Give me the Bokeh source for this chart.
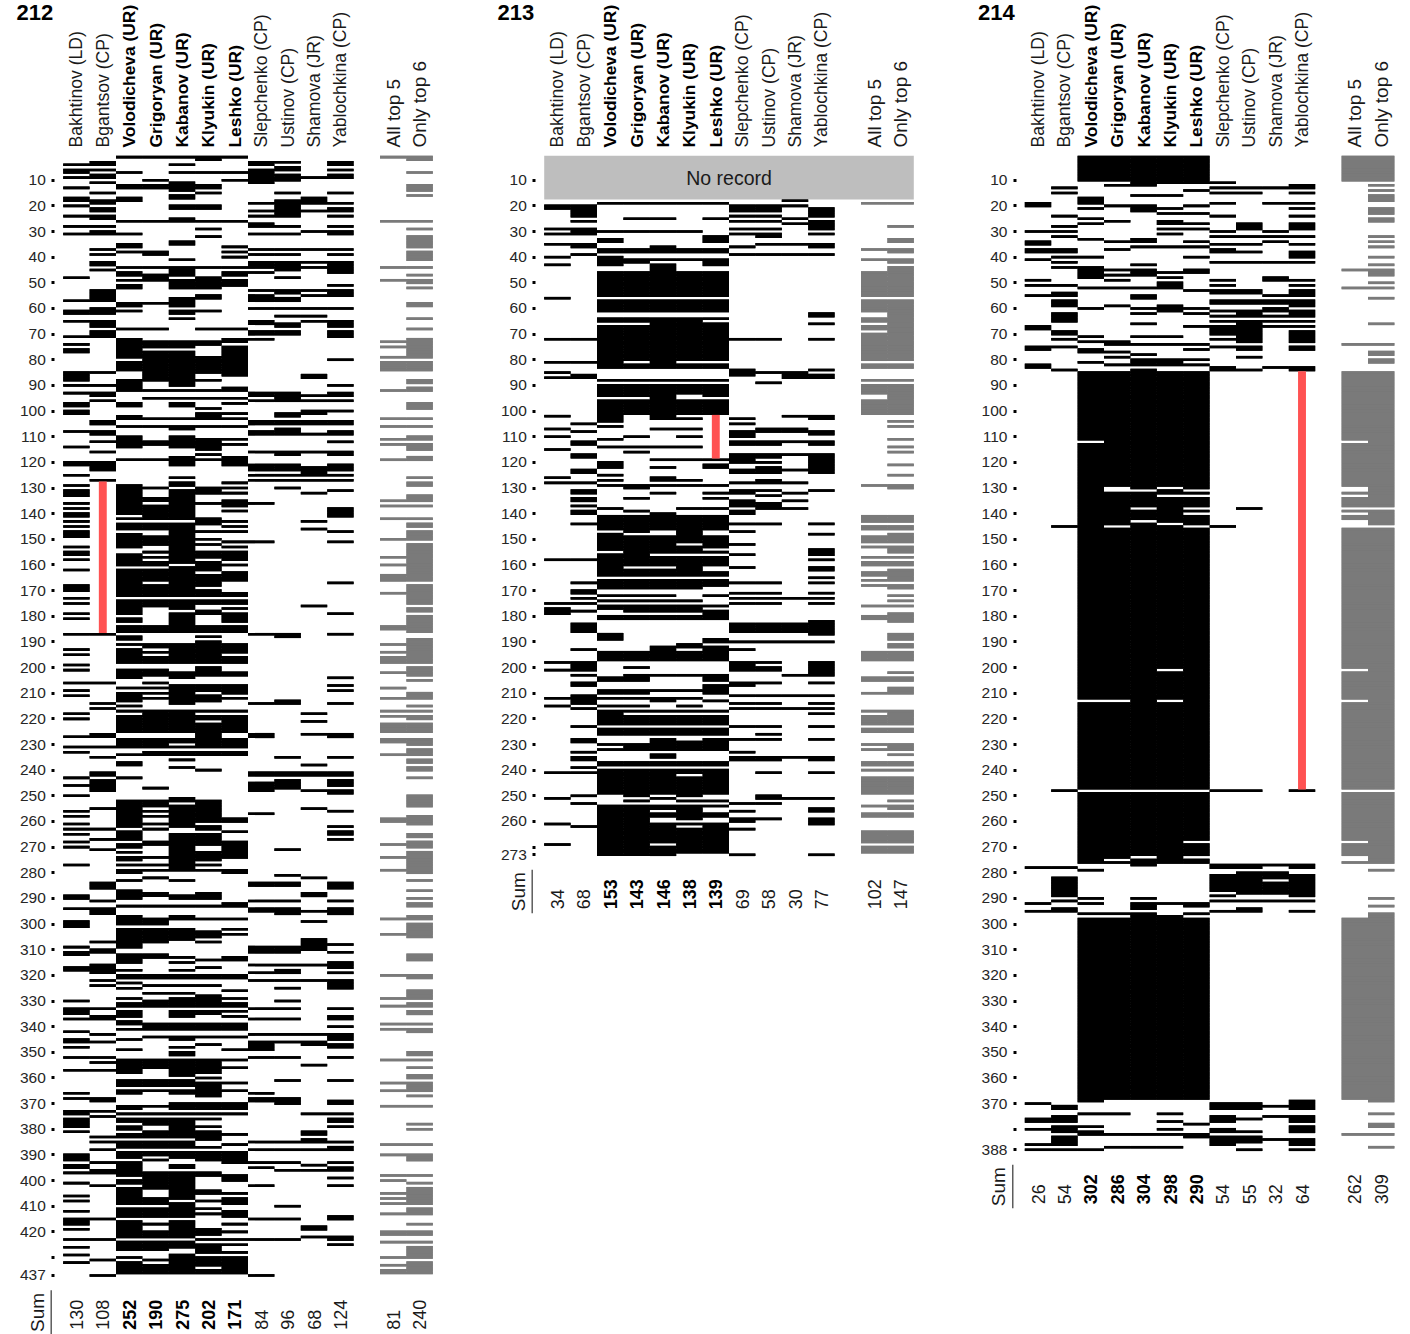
from math import pi
from bokeh.embed import file_html
from bokeh.resources import INLINE
from bokeh.core.properties import value
from bokeh.layouts import row
from bokeh.models import ColumnDataSource, FixedTicker, Range1d
from bokeh.plotting import figure

NAMES = ["Bakhtinov (LD)", "Bgantsov (CP)", "Volodicheva (UR)", "Grigoryan (UR)", "Kabanov (UR)",
         "Klyukin (UR)", "Leshko (UR)", "Slepchenko (CP)", "Ustinov (CP)", "Shamova (JR)", "Yablochkina (CP)"]
BOLD = [False, False, True, True, True, True, True, False, False, False, False]
SUMMARY_NAMES = ["All top 5", "Only top 6"]

# ---- Convocation 212: rows on which each deputy voted (a-b = consecutive rows)
bakhtinov_212 = "4 6 7 9 13 17-18 20 24 28 31 48 57 61-62 65 71 74 76-77 85-88 90 93 97-98 100-101 108 114 120-121 125 129 131-133 136 138 140-141 143 145 147-149 153 155-156 158 162 168-170 173 175 179 181 187 193 195 199 201 206 209 211 218 220 227 231 233 243 246 250 256 258 261 263 265 268 270 277 289-290 294 299-301 309 311-312 317-318 330 333-335 337 342 345-346 348 352 357 366 368 373-374 376-379 381 390-392 394-395 397 401 406 408 412 415-417 419 423 426 429 432"
bgantsov_212 = "3-4 6 8-9 11 15 18-19 21-22 24-25 28 30-31 37 39 42-43 45 53-57 60-62 65-67 69-71 85 90 93-94 96 104-105 108-109 112 116 120-123 127 187 206 214 216 226-227 231 235 241-242 244-248 255 263 267 271 284-286 291 294-296 307 310-311 316-319 322 324 333 336-337 343 346 352 354 357 368-369 373 375 383 385 388 393 396-397 402 415 423 431 437"
volodicheva_212 = "1 7 12-13 17-18 26 31 35-36 38 44 46-47 49 51-52 58-59 61 68 72 73-79 81-84 88-92 97-98 102-103 106 110-114 119 129-140 142 144-146 148-153 156-160 162-172 174-179 181-182 184-186 188-189 191 193-198 201-203 204 208 210-213 215 217 219-225 228-230 231 234 237-238 243 252-262 264-267 269-270 272 274-275 277 279-280 283 287-290 293 297-300 302-306 307-309 312-315 318 320-321 323 325 329 331-332 334-336 338-339 341 345 349 353-358 361-363 365-366 371-372 374 376-377 379-380 382-383 385-387 389-391 393-395 396-398 400-401 403-409 411-414 416-422 424-427 430 432-436"
grigoryan_212 = "1 10 12-13 26 38-39 44 47-49 58 68 73-75 77-84 85-88 92 95 103 106 112 113 119 130 134-135 137-142 144 145-146 149-152 155 157 159-160 162-166 168-172 174-176 184-186 191-192 194 196-198 201-203 206 208 210 212 217-225 228-230 231 233-234 247 252-254 256 258 261 263 268-269 274 277 279 282 288-289 293 298-300 302-307 312-313 320-321 324 327 330 331-332 339-341 344 353-356 361-363 365 371 374 376-378 381-383 385-387 389-390 392 397-403 407-409 411-414 417 420-422 424-427 431 433-436"
kabanov_212 = "1 4 7 11-14 16-17 20-21 25-26 34-35 41 44-47 49-52 56-59 61-62 64 73-75 77-90 92 95 97-98 103 106-107 110-114 118-121 126 128-129 131-142 144 145-158 159 161 162-172 174-177 179-186 191-198 202-204 207-210 211-213 214 217-225 228-229 231 233-234 236 239 251-252 254-262 265-279 283 289-290 293 297-298 302-306 313 315 318 320-321 324 327 329-332 334-336 339-341 344-345 348 350-351 353-354 355-359 361-363 365-366 370-372 374 376-383 385-387 389-391 394-395 397-407 409-414 416-422 424-426 429-436"
klyukin_212 = "1-2 7 12-13 15 20-21 26 29 32 44 48-52 55-56 61 68 73-74 79-85 88 92 95 99 101-103 106 111-115 117 119 130-132 136 142-144 147 150 152 155-157 159-162 164-167 168 170-172 174-175 178 179 184-186 188 190-198 200-203 207-209 211-213 217 219-220 222-230 231 233-234 240 252-255 256-260 262-263 265-269 272-275 277 279 288-290 293 298 303-305 307 314 317 320-321 324 328-332 334-335 339-341 344 347 353-358 360 362-367 370-372 374 376 379 381-384 387 389-392 397 398 404-405 408 411 413 419 420-421 423 425-428 430-433 435-436"
leshko_212 = "1 7 10 26 36 38 40 44 46-47 49-50 51 68 72 73 75-86 91-92 95 97 101 103 106 111 113 118-121 128 130 132 135-137 139 143 145 147 151 153 155-158 160 163-166 171-172 174-175 177 179-182 184-186 191-194 196-198 202-203 207-210 212 217 219-225 228-230 231 233-234 259-260 264 268-274 279-280 292-293 298 302 304 313-314 320-321 326 329 331-332 334 336 339-341 344 349 353 356 362 365 370-372 374 382 386 389-392 393 398-400 405 407-409 412-414 417 420 423 425 428 430-436"
slepchenko_212 = "3-4 6-7 8-10 11 19 22 24 27-28 31 37 39 42-43 44 46 53 55 56 57 60 65-66 69 70 72 93-94 96 104-105 108-109 116 121-123 125 127 136 151 187 214 226-227 241-242 245-248 257 284-285 291 294-295 309-311 316 319 322 333 337 343 346-349 352 366 368-369 385 388 393 395 402 415 423 437"
ustinov_212 = "3 5-6 8-10 15 18-24 28 31 37 39 42-43 44 45 48 53-54 56-57 60 63 66-67 69 70 93-96 101-102 104-105 107-109 116-117 121-123 125 127 130 187-188 213-214 235 241-242 244-247 271 281 284-285 291 294-296 309-311 316 318-319 322 325 330 333 337 343 346 352 361 368-370 385 388 393 396 410 415 423"
shamova_212 = "9 17-19 22 30 37 42 44 53 55 60 63 65 86-87 94 96 100-101 104-105 109 116 122-125 127 132 143 146 176 218 221 226 238 241-242 248 255 282 288-289 295 299 306-310 316 322 343 346-347 355 374 381-382 384-385 388 394 396 418-419 422"
yablochkina_212 = "3-4 6 8-9 15 19 21-22 24 28 30-31 37 39 42-43 44 45-46 51 53-55 60 65-67 69-71 80 90 93-94 96 100 104-105 108-109 112 116-117 121-123 125 127 131 138-141 147 151 167 179 187 204 207 209 214 226-227 235 241-242 244-246 248-249 256 262 264 265 267 284-286 291 294-296 308 311 315-317 319 322-325 333 336-337 340 343-345 347-348 352 361 369-370 374 376-377 379 385 387-388 393 395-396 399 402 414-415 422-423 425"
all5_212 = "1 26 44 49 73 75 79 81-84 92 103 106 111 113 119 135 137 142 150 157 160 164-166 171 184-185 191 194 196-198 202 208 212 217 219 222-225 228-229 234 259-260 269 274 279 298 304 320 329 332 339 341 353 362 365 371 386 390 398 400 405 407 409 413 420-421 424 430 433 435-436"
only6_212 = "1-2 7 12-14 16 26 29 32-36 38 39-41 44 47 49-50 52 58-59 64 68 72 73-79 81-84 88-89 91-92 97-99 103 106 110-111 113-115 118-119 126 128-129 133-135 137 142 144-145 147-150 152-166 168-175 177-178 180-186 189-198 200-203 205 210-212 215 217 219-220 222-225 228-230 232-234 236-237 239-240 243 250-254 258-261 265-266 268-270 272-280 283 287 290 292-293 297-298 300-305 312-314 320-321 326-329 331-332 334-335 339 341-342 350-351 353 356 359-360 362-365 367 371 378 380 386 390-392 398 401 403-409 411-413 417 420-421 424 426-430 432-436"
sums_212 = [130, 108, 252, 190, 275, 202, 171, 84, 96, 68, 124]
summary_212 = [81, 240]
ticks_212 = list(range(10, 430, 10)) + [430, 437]
unlabeled_212 = [430]
red_212 = (1, 128, 186)

# ---- Convocation 213
bakhtinov_213 = "20-21 29 31 35 40 43 56 72 81 85 87 102 107 110 115 126 128 158 175 177-179 198 201 212 215 241 251 261 269"
bgantsov_213 = "20-24 26 29-31 35-36 39 72 81 86-87 105 108 112-113 117-118 123-124 128 131-132 134-135 137 139-140 144 158 167 170-171 173 175 178 183-186 193 198-201 203 206-207 211-214 216 223 228-229 233 235-236 239 241 250 253 262"
volodicheva_213 = "19 30 33-34 37-38 40-43 46-55 57-61 64-65 67-83 88 90-94 96-101 102-104 106 111 114 120-122 125 127 129 138 141-146 148-154 156-164 166 167-169 172 174 176-177 180-181 187-189 194-197 204-205 209-210 212 215 217 218-222 224-226 230 232 237-238 240-249 254-273"
grigoryan_213 = "19 25 30 37-38 41 42 46-55 57-61 64-65 67-80 82-83 88 90-94 96-101 110 114 116 129-130 134 139 141-144 145-147 149-160 162-164 166 167-169 172 174 176-178 180-181 194-197 200 203-205 209-210 212 215 217 219-222 224-226 230-232 237-238 240-250 252 254-259 260-273"
kabanov_213 = "19 25 30 36-38 41 43-55 57-61 64-83 88 90-103 107 114 119 122 126-127 129 132 140-146 149-155 157-160 162-164 166-169 172 174 176-178 180-181 192-197 203 209 212-213 217 219-222 224-226 228-232 234-235 237-238 240-249 251 254-255 257-258 261-268 270-273"
klyukin_213 = "19 30 37-38 41 46-55 57-61 64-80 82-83 88 90-93 96-101 103 107 110 114 119 127 129 138 141-151 153-155 157-164 166 167-169 174 176-178 180-181 191-192 194-197 203 209 212 215 217 219-222 224-226 229-232 237-238 240-241 243-250 252 254-259 261 263 264-272"
leshko_213 = "19 25 32-34 37-38 41-43 46-55 57-61 64 66-80 82-83 88 90-94 96-101 119 121-122 129 132 134 138 141-146 149-153 155 157-160 163-164 166-168 172 176 178-181 189-190 192-197 203-205 207-210 213 217 219-222 224-226 228-232 237-238 240-249 252 254 257-258 261-272"
slepchenko_213 = "20-22 24 26 29 31 36 39 72 84-86 103 105 108-110 112-113 117-120 123-124 128 131-132 135-137 139-140 144 147 152 156 161 167 171 173 175 183-186 190 193 198-201 206-207 211 214 216 223 228 233 235-236 253 256 259-260 263 273"
ustinov_213 = "20-22 24 26 29 31-32 35 39 72 85 89 107-108 112-113 117-118 120 122-124 127-128 131 133 136-138 144 167 171 173 175 183-186 190 198 200-201 206 211 214 216 223 226 228 235-236 241 250-251 253 259"
shamova_213 = "18 20 25 27 35 39 85-87 102 107-108 112 117 123 128 132 135 138 173 183-186 190 203 211 216 235 251"
yablochkina_213 = "21-24 26-29 31 35-36 39 62-63 66 72 84 86-87 102-103 108-109 112-113 117-124 131 144 148 154-156 158 161-162 165 167 171 173 175 182-187 190 198-203 206 211 214 216 218 223 228 235-236 241 251 255-256 259-261 273"
all5_213 = "19 37 41 46-55 57-61 64-65 67-68 70-72 73-80 82-83 88 90-93 96-101 129 141-143 145-146 149-151 153 157 159-160 163-164 166 168 176 180-181 194-197 204-205 210 217 219-222 224-225 230 232 237-238 240 243-249 254 257-258 264-268 270-272"
only6_213 = "19 28 33-34 37-38 41-42 44-55 57-80 82-83 88 90-101 104 106 111 114 116 121 125 129-130 141-143 145-146 148-151 153-155 157 159-160 162-166 168-169 172 174 176 179-182 187-189 191-192 194-197 202 204-205 208-210 217-222 224-225 230-232 234 237-238 240 243-249 252 254-255 257-258 264-268 270-272"
sums_213 = [34, 68, 153, 143, 146, 138, 139, 69, 58, 30, 77]
summary_213 = [102, 147]
ticks_213 = list(range(10, 270, 10)) + [270, 273]
unlabeled_213 = [270]
red_213 = (6, 102, 118)
no_record_213 = (1, 17, "No record")

# ---- Convocation 214
bakhtinov_214 = "19-20 30 34-35 37-38 41 49 51 55 67-68 75-76 82-83 278 292 295 370 376-377 380 386 388"
bgantsov_214 = "13 15 24 28 30 32 37-38 40 42 44 51 54-55 57-59 62-65 69-70 72 75 84 145 248 278 282-289 291 294-295 371-372 375-377 379-381 383-386 388"
volodicheva_214 = "1-10 17-19 21 25 27 33 40 44-48 52 60 71 73 76-77 81 85-111 113-212 214-247 249-276 279 290 292 296 298-369 374 379 381 382 388"
grigoryan_214 = "1-10 12 20 26 34 37 45 47 49 52 59 73-74 77 79 82 85-129 132-144 146-212 214-247 249-274 276 296 298-368 374 382 387"
kabanov_214 = "1-12 16 20-22 33-34 36 43 45-47 52 55-56 60 62 66 71 74 78 80-82 84 85-130 132-137 139-142 144-247 249-273 275-277 290 292-294 296-368 382 387"
klyukin_214 = "1-11 16 21 23 26-27 29 31 36 46 48 50-52 59-61 71 74 80-82 85-129 131-132 134-143 145-200 202-212 214-247 249-276 292 297-368 374 377 380 382 387"
leshko_214 = "1-11 14 20 23 27 29 34 36 40 45-46 53 60 62 67 74 76 80 82 85-130 132 134-137 139 141-144 146-247 249-267 269-273 275-276 292-293 296 298-368 378 382-383"
slepchenko_214 = "11 13 15 19 24 30 32 35 37-38 42 49 51 53-54 57-58 61 63 65 67-70 72 75 83-84 145 248 277-278 281-287 289 291 295 370-372 375-377 380-381 383-386"
ustinov_214 = "13 15 27-29 32 35 38 42 53-54 57-58 61-63 65 66-73 75-76 79 84 138 248 277-278 280-288 291 294-295 370-372 376 381 383-385 388"
shamova_214 = "13 19 30 32 34 42 48-49 55 57-58 60-61 63 65 67 83 277 280-282 284-288 291 371 375 384"
yablochkina_214 = "12-13 15 19 21 24 27-29 32 35 38-40 42 49 51 53-55 57-59 61-63 65 67 69-73 75-76 83-84 248 277-278 281-289 291 295 369-372 375-377 379-381 384-386 388"
all5_214 = "1-10 45 52 74 85-111 113-129 132 134-137 139 141-142 146-200 202-212 214-247 249-267 269-273 276 298-368 382"
only6_214 = "1-10 12 14 16-18 21-23 25-26 32 34 36 40 43 45-47 50 52 56 66 74 77-78 80-81 85-137 139-144 146-247 249-276 279 290 293 296-369 374 378-379 382 387"
sums_214 = [26, 54, 302, 286, 304, 298, 290, 54, 55, 32, 64]
summary_214 = [262, 309]
ticks_214 = list(range(10, 380, 10)) + [380, 388]
unlabeled_214 = [380]
red_214 = (10, 85, 247)

FONT = "Liberation Sans"
ROW_PX = 2.565
COL_PX = 26.4
ROW10_Y = 179.7
PAGE_TOP = 0
PAGE_BOTTOM = 1334


def rows_of(text):
    out = set()
    for tok in text.split():
        a, _, b = tok.partition("-")
        out.update(range(int(a), int(b or a) + 1))
    return out


def row_spans(cols):
    """Cells joined sideways: one block per row for each run of touching columns."""
    sets = {c: rows_of(t) for c, t in cols}
    done = []
    first, last_col = min(sets), max(sets)
    for r in range(1, max(max(s) for s in sets.values()) + 1):
        c = first
        while c <= last_col:
            if r in sets[c]:
                start = c
                while c + 1 <= last_col and r in sets[c + 1]:
                    c += 1
                done.append((start, c + 1, r, r))
            c += 1
    return done


def col_spans(cols):
    """Cells joined downwards: one block per run of touching rows in a column."""
    done = []
    for c, t in cols:
        rows = sorted(rows_of(t))
        start = prev = rows[0]
        for r in rows[1:] + [None]:
            if r is None or r != prev + 1:
                done.append((c, c + 1, start, prev))
                start = r
            prev = r
    return done


def panel(title, votes, all5, only6, sums, summary, ticks, unlabeled, red, canvas_left, width, block_left, no_record=None):
    last = ticks[-1]
    top = 10 + (PAGE_TOP - ROW10_Y) / ROW_PX
    bottom = 10 + (PAGE_BOTTOM - ROW10_Y) / ROW_PX
    x_start = (canvas_left - block_left) / COL_PX
    x_end = x_start + width / COL_PX
    p = figure(width=width, height=PAGE_BOTTOM - PAGE_TOP, output_backend="svg", toolbar_location=None,
               x_range=Range1d(x_start, x_end), y_range=Range1d(bottom, top),
               x_axis_location=None, y_axis_location="left",
               min_border=0, min_border_left=0, min_border_right=0, min_border_top=0, min_border_bottom=0,
               outline_line_color=None, background_fill_color="white", border_fill_color="white")
    p.grid.visible = False

    ax = p.yaxis[0]
    ax.fixed_location = -0.318
    ax.ticker = FixedTicker(ticks=ticks)
    ax.major_label_overrides = {t: ("" if t in unlabeled else str(t)) for t in ticks}
    ax.axis_line_color = None
    ax.minor_tick_line_color = None
    ax.major_tick_line_color = "black"
    ax.major_tick_line_width = 3
    ax.major_tick_in = 0
    ax.major_tick_out = 3
    ax.major_label_standoff = 6
    ax.major_label_text_font = FONT
    ax.major_label_text_font_size = "15.5px"
    ax.major_label_text_color = "#262626"

    if no_record:
        p.quad(left=[0], right=[14], top=[no_record[0] - 0.5], bottom=[no_record[1] + 0.5],
               fill_color="#bebebe", line_color=None)
        p.text(x=[7], y=[(no_record[0] + no_record[1]) / 2], text=[no_record[2]], text_align="center",
               text_baseline="middle", text_font=value(FONT), text_font_size="19.5px", text_color="#1a1a1a")

    def bars(cols, color):
        # two overlaid layers, so that the seams of one are covered by the other
        for blocks in (col_spans(cols), row_spans(cols)):
            src = ColumnDataSource(dict(left=[b[0] for b in blocks], right=[b[1] for b in blocks],
                                        top=[b[2] - 0.5 for b in blocks], bottom=[b[3] + 0.5 for b in blocks]))
            p.quad(source=src, left="left", right="right", top="top", bottom="bottom",
                   fill_color=color, line_color=None)

    bars(list(enumerate(votes)), "black")
    bars([(12, all5), (13, only6)], "#7a7a7a")

    col, start, end = red
    p.quad(left=[col + 0.35], right=[col + 0.65], top=[start - 0.5], bottom=[end + 0.5],
           fill_color="#ff5252", line_color=None)

    header_y = 10 + (147 - ROW10_Y) / ROW_PX
    foot_y = last + 21.2
    common = dict(angle=pi / 2, text_align="left", text_baseline="middle", text_font=value(FONT))
    reg = [i for i in range(11) if not BOLD[i]]
    bld = [i for i in range(11) if BOLD[i]]
    p.text(x=[i + 0.5 for i in reg], y=[header_y] * len(reg), text=[NAMES[i] for i in reg],
           text_font_size="17.6px", text_color="#1a1a1a", **common)
    p.text(x=[i + 0.5 for i in bld], y=[header_y] * len(bld), text=[NAMES[i] for i in bld],
           text_font_size="17.4px", text_font_style="bold", text_color="black", **common)
    p.text(x=[12.5, 13.5], y=[header_y] * 2, text=SUMMARY_NAMES, text_font_size="19px", text_color="#1a1a1a", **common)

    p.text(x=[i + 0.5 for i in reg], y=[foot_y] * len(reg), text=[str(sums[i]) for i in reg],
           text_font_size="18px", text_color="#1a1a1a", **common)
    p.text(x=[i + 0.5 for i in bld], y=[foot_y] * len(bld), text=[str(sums[i]) for i in bld],
           text_font_size="18px", text_font_style="bold", text_color="black", **common)
    p.text(x=[12.5, 13.5], y=[foot_y] * 2, text=[str(v) for v in summary],
           text_font_size="18px", text_color="#1a1a1a", **common)
    p.text(x=[-0.99], y=[foot_y + 0.8], text=["Sum"], text_font_size="19px", text_color="#1a1a1a", **common)
    p.segment(x0=[-0.455], x1=[-0.455], y0=[last + 5.8], y1=[last + 22.8], line_color="#444444", line_width=1.3)

    p.text(x=[-1.77], y=[10 + (12 - ROW10_Y) / ROW_PX], text=[title], text_align="left", text_baseline="middle",
           text_font=value(FONT), text_font_style="bold", text_font_size="22px", text_color="black")
    return p


p212 = panel("212", [bakhtinov_212, bgantsov_212, volodicheva_212, grigoryan_212, kabanov_212, klyukin_212, leshko_212,
                     slepchenko_212, ustinov_212, shamova_212, yablochkina_212],
             all5_212, only6_212, sums_212, summary_212, ticks_212, unlabeled_212, red_212, 0, 490, 62.7)
p213 = panel("213", [bakhtinov_213, bgantsov_213, volodicheva_213, grigoryan_213, kabanov_213, klyukin_213, leshko_213,
                     slepchenko_213, ustinov_213, shamova_213, yablochkina_213],
             all5_213, only6_213, sums_213, summary_213, ticks_213, unlabeled_213, red_213, 490, 481, 543.7,
             no_record=no_record_213)
p214 = panel("214", [bakhtinov_214, bgantsov_214, volodicheva_214, grigoryan_214, kabanov_214, klyukin_214, leshko_214,
                     slepchenko_214, ustinov_214, shamova_214, yablochkina_214],
             all5_214, only6_214, sums_214, summary_214, ticks_214, unlabeled_214, red_214, 971, 431, 1024.3)

layout = row(p212, p213, p214, spacing=0)
open("out.html", "w").write(file_html(layout, INLINE))
